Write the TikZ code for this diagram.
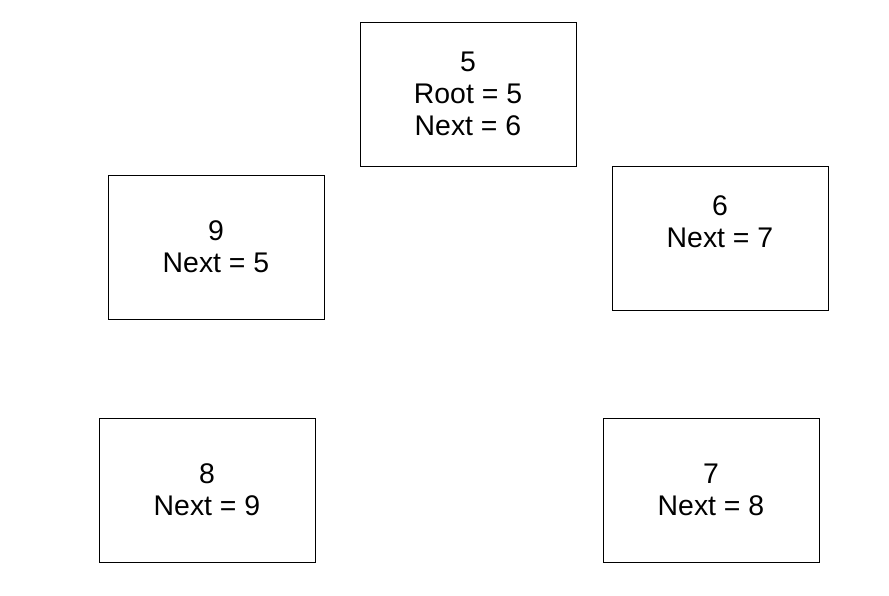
\documentclass[tikz,border=0pt]{standalone}
\usepackage{fontspec}
\setmainfont{Liberation Sans}
\begin{document}
\begin{tikzpicture}[x=1pt,y=-1pt,
  box/.style={draw=black,line width=0.8pt,minimum width=216pt,minimum height=144pt,inner sep=0pt},
  lbl/.style={align=center,font=\fontsize{28.4}{32}\selectfont,inner sep=0pt}]
\useasboundingbox (0,0) rectangle (889,596);
\node[box] (b5) at (468,94) {};
\node[lbl] (t5) at (b5.center) {5\\Root = 5\\Next = 6};
\node[box] (b9) at (216,247) {};
\node[lbl] (t9) at (b9.center) {9\\Next = 5};
\node[box] (b6) at (720,238) {};
\node[lbl] (t6) at ([yshift=16pt]b6.center) {6\\Next = 7};
\node[box] (b8) at (207,490) {};
\node[lbl] (t8) at (b8.center) {8\\Next = 9};
\node[box] (b7) at (711,490) {};
\node[lbl] (t7) at (b7.center) {7\\Next = 8};
\end{tikzpicture}
\end{document}
